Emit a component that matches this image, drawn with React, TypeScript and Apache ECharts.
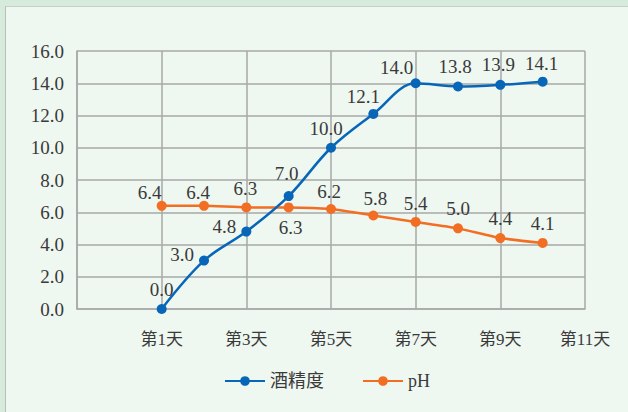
import React, { useEffect, useRef } from "react";
import * as echarts from "echarts";

const days = [1, 2, 3, 4, 5, 6, 7, 8, 9, 10];
const alcohol = [0.0, 3.0, 4.8, 7.0, 10.0, 12.1, 14.0, 13.8, 13.9, 14.1];
const ph = [6.4, 6.4, 6.3, 6.3, 6.2, 5.8, 5.4, 5.0, 4.4, 4.1];
const seriesNames = ["酒精度", "pH"];
const xTickDays = [1, 3, 5, 7, 9, 11];

const alcoholLabel: any[] = [
  { position: "top" },
  { position: "left", offset: [0, -6] },
  { position: "left", offset: [0, -5] },
  { position: "top", offset: [-2, -3] },
  { position: "top", offset: [-5, 0] },
  { position: "top", offset: [-10, 2] },
  { position: "top", offset: [-19, 4] },
  { position: "top", offset: [-3, 0] },
  { position: "top", offset: [-2, -1] },
  { position: "top", offset: [-1, 1] },
];
const phLabel: any[] = [
  { position: "top", offset: [-12, 6] },
  { position: "top", offset: [-6, 6] },
  { position: "top", offset: [-1, 1] },
  { position: "bottom", offset: [2, 1] },
  { position: "top", offset: [-2, 2] },
  { position: "top", offset: [2, 3] },
  { position: "top", offset: [0, 1] },
  { position: "top", offset: [0, 0] },
  { position: "top", offset: [0, 0] },
  { position: "top", offset: [0, 0] },
];

const FONT = '"Liberation Serif", "DejaVu Serif", "Noto Sans CJK SC", serif';
const TEXT = "#3a3a3a";
const GRID = "#a9a9a9";

export default function App() {
  const ref = useRef<HTMLDivElement>(null);
  useEffect(() => {
    if (!ref.current) return;
    const chart = echarts.init(ref.current, null, { renderer: "svg" });
    const mk = (vals: number[], labels: any[]) =>
      vals.map((v, i) => ({
        value: [days[i] + 1, v],
        label: { show: true, ...labels[i] },
      }));
    chart.setOption({
      animation: false,
      backgroundColor: "transparent",
      textStyle: { fontFamily: FONT },
      grid: { left: 77, top: 51, right: 43, bottom: 103, containLabel: false },
      legend: {
        left: 219,
        top: 367,
        itemWidth: 40,
        itemHeight: 12,
        itemGap: 38,
        textStyle: { fontFamily: FONT, fontSize: 18, color: TEXT },
        data: seriesNames,
      },
      xAxis: {
        type: "value",
        min: 0,
        max: 12,
        interval: 2,
        axisLine: { show: true, lineStyle: { color: GRID, width: 1.5 } },
        axisTick: { show: false },
        splitLine: { show: true, lineStyle: { color: GRID, width: 1.5 } },
        axisLabel: {
          margin: 22,
          fontSize: 17,
          color: TEXT,
          fontFamily: FONT,
          formatter: (v: number) =>
            xTickDays.includes(v - 1) ? `第${v - 1}天` : "",
        },
      },
      yAxis: {
        type: "value",
        min: 0,
        max: 16,
        interval: 2,
        axisLine: { show: true, lineStyle: { color: GRID, width: 1.5 } },
        axisTick: { show: false },
        splitLine: { show: true, lineStyle: { color: GRID, width: 1.5 } },
        axisLabel: {
          margin: 13,
          fontSize: 19,
          color: TEXT,
          fontFamily: FONT,
          formatter: (v: number) => v.toFixed(1),
        },
      },
      series: [
        {
          name: seriesNames[0],
          type: "line",
          smooth: 0.35,
          symbol: "circle",
          symbolSize: 10,
          color: "#0866b8",
          lineStyle: { width: 2.5, color: "#0866b8" },
          itemStyle: { color: "#0866b8" },
          label: {
            fontSize: 19,
            color: TEXT,
            fontFamily: FONT,
            formatter: (p: any) => p.value[1].toFixed(1),
          },
          data: mk(alcohol, alcoholLabel),
          z: 3,
        },
        {
          name: seriesNames[1],
          type: "line",
          smooth: 0.2,
          symbol: "circle",
          symbolSize: 10,
          color: "#f26e22",
          lineStyle: { width: 2.5, color: "#f26e22" },
          itemStyle: { color: "#f26e22" },
          label: {
            fontSize: 19,
            color: TEXT,
            fontFamily: FONT,
            formatter: (p: any) => p.value[1].toFixed(1),
          },
          data: mk(ph, phLabel),
          z: 2,
        },
      ],
    });
    return () => chart.dispose();
  }, []);

  return (
    <div
      style={{
        position: "fixed",
        left: 0,
        top: 0,
        width: 628,
        height: 412,
        background: "#d7ebdd",
        overflow: "hidden",
      }}
    >
      <div
        style={{
          position: "absolute",
          left: 5,
          top: 6,
          width: 640,
          height: 420,
          background: "#eef7f0",
          borderLeft: "1.5px solid #b8beba",
          borderTop: "1.5px solid #c3d2c8",
        }}
      />
      <div
        ref={ref}
        style={{ position: "absolute", left: 0, top: 0, width: 628, height: 412 }}
      />
    </div>
  );
}
